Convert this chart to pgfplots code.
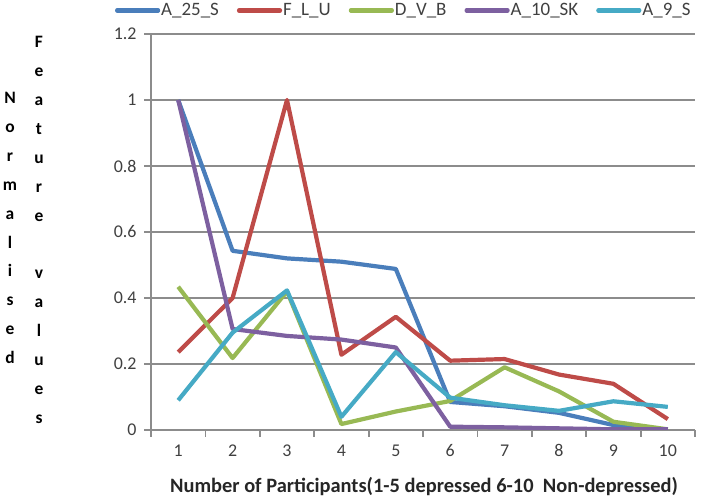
\documentclass[border=0pt]{standalone}
\usepackage{fontspec}
\setmainfont{Carlito}
\usepackage{pgfplots}
\pgfplotsset{compat=1.18}
\definecolor{cBlue}{HTML}{4A7EBB}
\definecolor{cRed}{HTML}{BE4B48}
\definecolor{cGreen}{HTML}{98B954}
\definecolor{cPurple}{HTML}{7D60A0}
\definecolor{cCyan}{HTML}{46AAC5}
\definecolor{cGrid}{HTML}{8C8C8C}
\definecolor{cTxt}{HTML}{404040}
\begin{document}
\begin{tikzpicture}[x=1bp,y=1bp]
\useasboundingbox (0,0) rectangle (720,498);
\begin{axis}[
  at={(151bp,68bp)}, anchor=south west,
  scale only axis, width=544bp, height=396bp,
  xmin=0.5, xmax=10.5, ymin=0, ymax=1.2,
  axis x line*=bottom, axis y line*=left,
  axis line style={cGrid, line width=1.8bp},
  xtick={1,...,10},
  minor xtick={0.5,1.5,...,10.5},
  ytick={0,0.2,...,1.2},
  yticklabels={0,0.2,0.4,0.6,0.8,1,1.2},
  tick align=outside,
  major tick length=7bp, minor tick length=7bp,
  x tick style={draw=none},
  minor x tick style={draw=cGrid, line width=1.8bp},
  y tick style={draw=cGrid, line width=1.8bp},
  ymajorgrids,
  grid style={cGrid, line width=2.2bp},
  tick label style={font=\fontsize{18}{20}\selectfont, text=cTxt},
  /pgf/number format/assume math mode=true,
  xticklabel style={yshift=-4bp},
  yticklabel style={xshift=-4bp},
  legend columns=5,
  legend style={draw=none, fill=none, at={(-0.072,1.085)}, anchor=north west,
    font=\fontsize{19}{21}\selectfont, text=cTxt,
    nodes={inner sep=1bp},
    /tikz/every even column/.append style={column sep=17bp}},
  legend image code/.code={\draw[line width=4.2bp,line cap=round] (0bp,0bp) -- (41bp,0bp);},
  every axis plot/.append style={line width=4.2bp, line join=round, mark=none},
]
\addplot[cBlue] coordinates {(1,1.0) (2,0.543) (3,0.52) (4,0.51) (5,0.488) (6,0.085) (7,0.072) (8,0.052) (9,0.015) (10,0.0)};
\addlegendentry{A\_25\_S}
\addplot[cRed] coordinates {(1,0.236) (2,0.40) (3,1.0) (4,0.228) (5,0.343) (6,0.21) (7,0.215) (8,0.168) (9,0.14) (10,0.033)};
\addlegendentry{F\_L\_U}
\addplot[cGreen] coordinates {(1,0.434) (2,0.218) (3,0.42) (4,0.018) (5,0.056) (6,0.088) (7,0.19) (8,0.117) (9,0.025) (10,0.002)};
\addlegendentry{D\_V\_B}
\addplot[cPurple] coordinates {(1,1.0) (2,0.306) (3,0.285) (4,0.274) (5,0.25) (6,0.01) (7,0.008) (8,0.005) (9,0.002) (10,0.002)};
\addlegendentry{A\_10\_SK}
\addplot[cCyan] coordinates {(1,0.09) (2,0.295) (3,0.423) (4,0.04) (5,0.236) (6,0.098) (7,0.075) (8,0.058) (9,0.087) (10,0.07)};
\addlegendentry{A\_9\_S}
\end{axis}
\node[font=\bfseries\fontsize{17.5}{29}\selectfont, align=center] at (10,270) {N\\o\\r\\m\\a\\l\\i\\s\\e\\d};
\node[font=\bfseries\fontsize{17.5}{29}\selectfont, align=center] at (39,268) {F\\e\\a\\t\\u\\r\\e\\[29bp]v\\a\\l\\u\\e\\s};
\node[font=\bfseries\fontsize{20.5}{22}\selectfont, text=black!85] at (424,11) {Number of Participants(1-5 depressed 6-10\ \ Non-depressed)};
\end{tikzpicture}
\end{document}
